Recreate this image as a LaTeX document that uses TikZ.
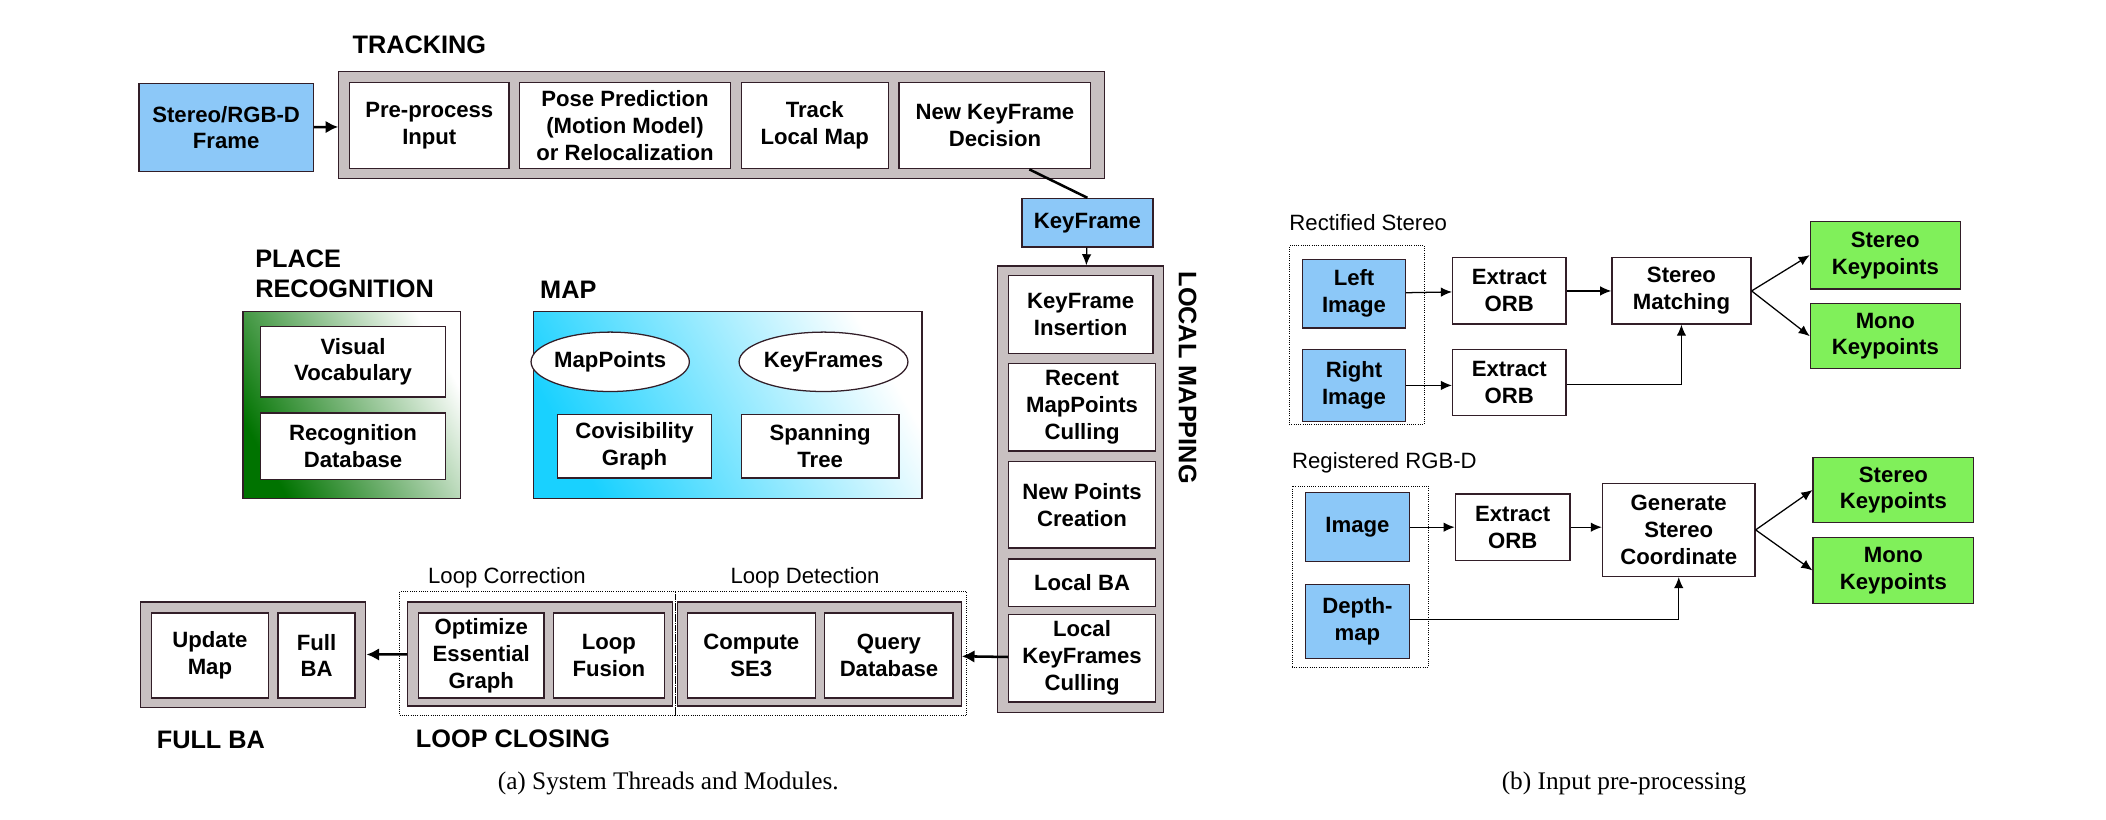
\documentclass[tikz,border=0pt]{standalone}
\usepackage{fontspec}
\setmainfont{Liberation Serif}
\setsansfont{Liberation Sans}
\usetikzlibrary{arrows.meta,shapes.geometric}
\definecolor{frameblue}{RGB}{140,200,248}
\definecolor{kpgreen}{RGB}{128,240,90}
\definecolor{threadgray}{RGB}{200,192,193}
\definecolor{edgedark}{RGB}{50,30,40}
\newcommand{\bx}[7][box]{\node[#1, minimum width={(#5-#3)*0.03cm}, minimum height={(#6-#4)*0.03cm}] (#2) at ({(#3+#5)/2},{(#4+#6)/2}) {#7};}

\begin{document}
\begin{tikzpicture}[x=0.03cm, y=-0.03cm,
    box/.style={draw=edgedark, thick, fill=white, inner sep=0pt, align=center, font=\sffamily\bfseries\fontsize{14}{17}\selectfont},
    bluebox/.style={box, fill=frameblue},
    greenbox/.style={box, fill=kpgreen},
    thread/.style={draw=edgedark, thick, fill=threadgray, inner sep=0pt},
    group/.style={draw=black, densely dotted, inner sep=0pt},
    title/.style={anchor=west, font=\sffamily\bfseries\fontsize{16}{19}\selectfont},
    sub/.style={anchor=west, font=\sffamily\fontsize{14}{17}\selectfont},
    figcaption/.style={font=\rmfamily\fontsize{16}{19}\selectfont},
    arr/.style={-{Latex[length=7pt,width=6pt]}, thick},
    fat/.style={-{Latex[length=8pt,width=8pt]}, line width=1.6pt}]
\useasboundingbox (0,0) rectangle (1560,607);

% tracking
\node[title] (trk) at (257,33) {TRACKING};
\bx[thread]{tracking}{251}{53}{818}{132}{}
\bx[bluebox]{frame}{103}{62}{232}{127}{Stereo/RGB-D\\Frame}
\bx{pre}{259}{61}{377}{125}{Pre-process\\Input}
\bx{pose}{385}{61}{541}{125}{Pose Prediction\\(Motion Model)\\or Relocalization}
\bx{track}{549}{61}{658}{125}{Track\\Local Map}
\bx{newkf}{666}{61}{808}{125}{New KeyFrame\\Decision}
\bx[bluebox]{kf}{757}{147}{854}{183}{KeyFrame}
\draw[fat] (frame) -- (tracking);
\draw[line width=1.6pt] (newkf.south east) ++(-46,0) coordinate (kfout) -- (kf.north);

% local mapping
\bx[thread]{localmap}{739}{197}{862}{528}{}
\node[rotate=-90, anchor=south west, font=\sffamily\bfseries\fontsize{16}{19}\selectfont] (lmt) at (869,197) {LOCAL MAPPING};
\bx{kfins}{747}{204}{854}{262}{KeyFrame\\Insertion}
\bx{mpcull}{747}{269}{856}{334}{Recent\\MapPoints\\Culling}
\bx{newpts}{747}{342}{856}{406}{New Points\\Creation}
\bx{lba}{747}{414}{856}{449}{Local BA}
\bx{kfcull}{747}{455}{856}{520}{Local\\KeyFrames\\Culling}
\draw[arr] (kf) -- (localmap);

% place recognition and map
\node[title, align=left] (prt) at (185,203) {PLACE\\RECOGNITION};
\shade[draw=edgedark, thick, left color=green!45!black, right color=white, shading angle=120] (180,231) rectangle (341,369);
\bx{vocab}{193}{242}{330}{294}{Visual\\Vocabulary}
\bx{recdb}{193}{306}{330}{355}{Recognition\\Database}
\node[title] (mapt) at (396,215) {MAP};
\shade[draw=edgedark, thick, left color=cyan!80!blue!90, right color=white, shading angle=120] (395,231) rectangle (683,369);
\node[box, ellipse, minimum width=96*0.03cm, minimum height=44*0.03cm] (mp) at (452,268) {MapPoints};
\node[box, ellipse, minimum width=124*0.03cm, minimum height=44*0.03cm] (kfs) at (610,268) {KeyFrames};
\bx{covis}{413}{307}{527}{354}{Covisibility\\Graph}
\bx{span}{549}{307}{666}{354}{Spanning\\Tree}

% loop closing and full BA
\node[sub] (lct) at (313,428) {Loop Correction};
\node[sub] (ldt) at (537,428) {Loop Detection};
\bx[group]{corr}{296}{438}{500}{530}{}
\bx[group]{detect}{500}{438}{716}{530}{}
\bx[thread]{corrthr}{302}{446}{498}{523}{}
\bx[thread]{detthr}{502}{446}{712}{523}{}
\bx{optim}{310}{454}{403}{517}{Optimize\\Essential\\Graph}
\bx{fusion}{410}{454}{492}{517}{Loop\\Fusion}
\bx{se3}{509}{454}{604}{517}{Compute\\SE3}
\bx{query}{611}{454}{706}{517}{Query\\Database}
\bx[thread]{fullba}{104}{446}{271}{524}{}
\bx{update}{112}{454}{199}{517}{Update\\Map}
\bx{gba}{206}{454}{263}{517}{Full\\BA}
\node[title] (fbt) at (112,548) {FULL BA};
\node[title] (lclt) at (304,547) {LOOP CLOSING};
\draw[fat] (kfcull) -- (detthr);
\draw[fat] (corrthr) -- (fullba);
\node[figcaption] (capa) at (495,580) {(a) System Threads and Modules.};

% input: rectified stereo
\node[sub] (rst) at (951,165) {Rectified Stereo};
\bx[group]{stgroup}{955}{182}{1055}{314}{}
\bx[bluebox]{left}{965}{192}{1041}{243}{Left\\Image}
\bx[bluebox]{right}{965}{259}{1041}{312}{Right\\Image}
\bx{orbl}{1076}{191}{1160}{240}{Extract\\ORB}
\bx{orbr}{1076}{259}{1160}{308}{Extract\\ORB}
\bx{match}{1194}{191}{1297}{240}{Stereo\\Matching}
\bx[greenbox]{stkp}{1341}{164}{1452}{214}{Stereo\\Keypoints}
\bx[greenbox]{monokp}{1341}{225}{1452}{273}{Mono\\Keypoints}
\draw[arr] (left) -- (orbl);
\draw[arr] (right.east) -- (orbr.west |- right.east);
\draw[arr] (orbl) -- (match);
\draw[arr] (orbr.east |- 0,285) -| (match.south);
\draw[arr] (match.east) -- (stkp.west);
\draw[arr] (match.east) -- (monokp.west);

% input: registered rgb-d
\node[sub] (rgbt) at (953,343) {Registered RGB-D};
\bx[group]{rgbgroup}{957}{360}{1058}{494}{}
\bx[bluebox]{img}{967}{365}{1044}{416}{Image}
\bx[bluebox]{depth}{967}{433}{1044}{488}{Depth-\\map}
\bx{orbd}{1078}{366}{1163}{415}{Extract\\ORB}
\bx{gen}{1187}{358}{1300}{427}{Generate\\Stereo\\Coordinate}
\bx[greenbox]{stkp2}{1343}{339}{1462}{387}{Stereo\\Keypoints}
\bx[greenbox]{monokp2}{1343}{398}{1462}{447}{Mono\\Keypoints}
\draw[arr] (img) -- (orbd);
\draw[arr] (orbd) -- (gen.west |- orbd);
\draw[arr] (depth.east |- 0,459) -| (gen.south);
\draw[arr] (gen.east) -- (stkp2.west);
\draw[arr] (gen.east) -- (monokp2.west);
\node[figcaption] (capb) at (1203,580) {(b) Input pre-processing};
\end{tikzpicture}
\end{document}
